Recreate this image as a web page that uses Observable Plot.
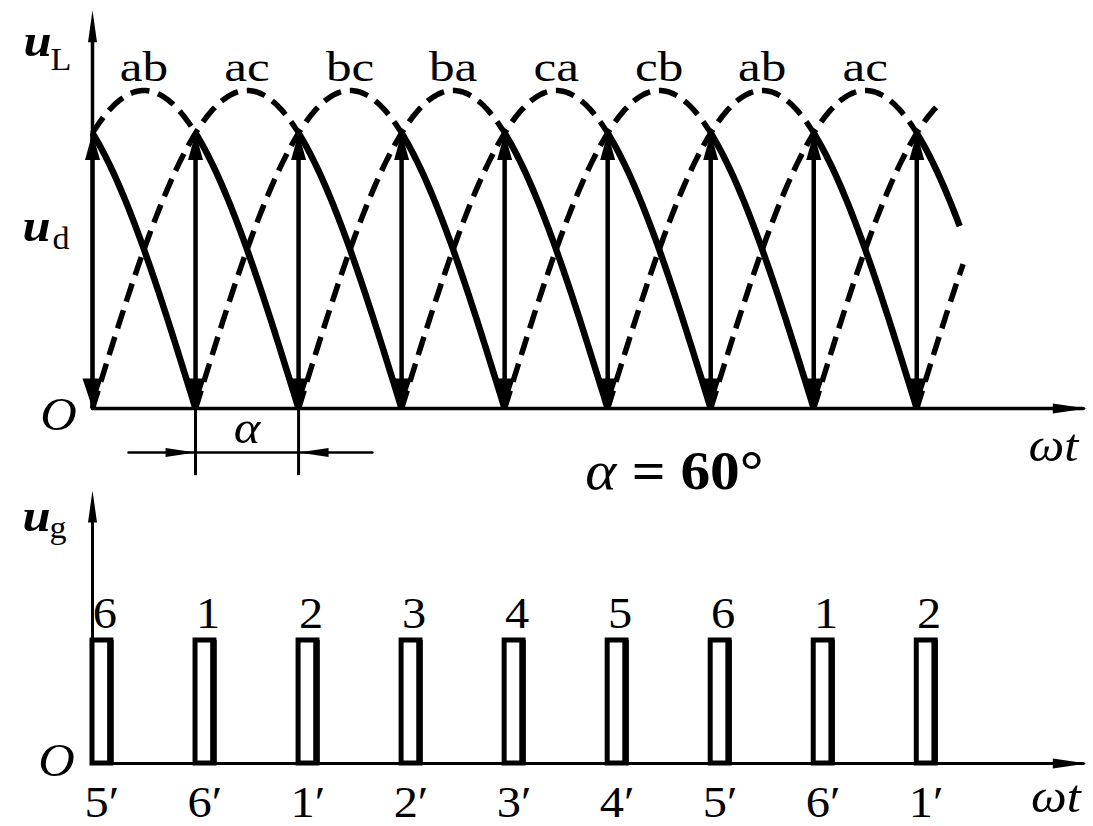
<!DOCTYPE html>
<html>
<head>
<meta charset="utf-8">
<script src="https://cdn.jsdelivr.net/npm/d3@7"></script>
<script src="https://cdn.jsdelivr.net/npm/@observablehq/plot@0.6"></script>
<style>
  body { margin: 0; background: #fff; }
  #chart { position: relative; width: 1093px; height: 826px; }
  #chart svg { display: block; }
</style>
</head>
<body>
<div id="chart"></div>
<script>
// Three-phase fully controlled bridge rectifier, resistive load, firing angle α = 60°.
// Angles are in electrical degrees measured from the origin O.

const alphaDeg = 60;

// Line voltages named above their crests, and the crest positions (deg)
const pairLabels = ["ab", "ac", "bc", "ba", "ca", "cb", "ab", "ac"];
const labelPeaks = [30, 90, 150, 210, 270, 330, 390, 450];

// Every line-voltage half wave that appears in the window: crest angle and where the trace stops
const curvePeaks = [-30, 30, 90, 150, 210, 270, 330, 390, 450, 510, 570];
const curveEnds  = [540, 540, 540, 540, 540, 540, 540, 540, 505, 493, 507];

// Gate pulses: thyristor numbers above, reference labels below
const pulseNumbers = ["6", "1", "2", "3", "4", "5", "6", "1", "2"];
const pulseRefs = ["5′", "6′", "1′", "2′", "3′", "4′", "5′", "6′", "1′"];
const pulseWidthDeg = 11;

// ---------------------------------------------------------------------------
const deg = Math.PI / 180;
const W = 1093;
const topH = 482, botH = 344;
const xDomain = [0, 580];
const marginLeft = 92, marginRight = 5;
const serif = "Liberation Serif, Times New Roman, serif";

// Half-wave traces: dashed before the thyristor fires, solid while it conducts (ud)
const dashed = [], solid = [];
curvePeaks.forEach((p, i) => {
  const fire = p - 30 + alphaDeg;           // natural commutation point + α
  const lo = Math.max(0, p - 90), hi = Math.min(p + 90, curveEnds[i]);
  const trace = (a, b, out) => {
    if (b <= a) return;
    const n = Math.ceil(b - a);
    for (let j = 0; j <= n; j++) {
      const t = a + (b - a) * j / n;
      out.push({curve: i, t, v: Math.cos((t - p) * deg)});
    }
  };
  trace(lo, Math.min(fire, hi), dashed);
  trace(Math.max(fire, lo), Math.min(p + 90, hi), solid);
});

// Firing instants: ud jumps from 0 to the incoming line voltage
const firings = curvePeaks
  .filter((p, i) => p - 30 + alphaDeg >= 0 && p - 30 + alphaDeg <= curveEnds[i] - 20)
  .map(p => {
    const t = p - 30 + alphaDeg;
    return {t, v: Math.cos((t - p) * deg)};
  });

const labels = pairLabels.map((s, i) => ({t: labelPeaks[i], s}));

const pulses = firings.map((f, i) => ({
  t1: f.t, t2: f.t + pulseWidthDeg, tc: f.t + pulseWidthDeg / 2,
  num: pulseNumbers[i], ref: pulseRefs[i]
}));

// Filled arrowheads, tip at the symbol origin
const head = (dx, dy, half) => ({
  draw(ctx) {
    const len = Math.hypot(dx, dy), ux = dx / len, uy = dy / len;
    ctx.moveTo(0, 0);
    ctx.lineTo(dx - uy * half, dy + ux * half);
    ctx.lineTo(dx + uy * half, dy - ux * half);
    ctx.closePath();
  }
});
const headUp = head(0, 27, 7.5);
const headDown = head(0, -30, 10);
const axisUp = head(0, 32, 4.5);
const axisRight = head(-34, 0, 5);
const dimRight = head(-30, 0, 4.5);
const dimLeft = head(30, 0, 4.5);

const ink = {stroke: "black"};
const txt = (extra) => ({fontFamily: serif, fill: "black", lineAnchor: "bottom", ...extra});

// ---------------------------------------------------------------------------
// Upper panel: line voltages and rectified output ud
const fire1 = firings[1].t, fire2 = firings[2].t;
const dimY = -0.138;

const upper = Plot.plot({
  width: W, height: topH,
  marginLeft, marginRight, marginTop: 90, marginBottom: topH - 408,
  x: {domain: xDomain, axis: null},
  y: {domain: [0, 1], axis: null},
  style: {background: "transparent", overflow: "visible"},
  marks: [
    // axes
    Plot.line([{t: 0, v: 0}, {t: 577, v: 0}], {x: "t", y: "v", ...ink, strokeWidth: 3.5}),
    Plot.line([{t: 0, v: 0}, {t: 0, v: 1.2}], {x: "t", y: "v", ...ink, strokeWidth: 3.5}),
    Plot.dot([{t: 0, v: 1.252}], {x: "t", y: "v", symbol: axisUp, fill: "black", stroke: "none"}),
    Plot.dot([{t: 579, v: 0}], {x: "t", y: "v", symbol: axisRight, fill: "black", stroke: "none"}),

    // line voltages (dashed) and conducting parts (solid)
    Plot.line(dashed, {x: "t", y: "v", z: "curve", ...ink, strokeWidth: 5.5, strokeDasharray: "19,9", strokeLinecap: "butt"}),
    Plot.line(solid, {x: "t", y: "v", z: "curve", ...ink, strokeWidth: 6.5, strokeLinecap: "butt"}),

    // jumps at each firing instant
    Plot.ruleX(firings, {x: "t", y1: 0, y2: "v", ...ink, strokeWidth: 4.5}),
    Plot.dot(firings, {x: "t", y: "v", symbol: headUp, fill: "black", stroke: "none"}),
    Plot.dot(firings, {x: "t", y: 0, symbol: headDown, fill: "black", stroke: "none"}),

    // phase-pair names
    Plot.text(labels, {x: "t", y: 1, text: "s", dy: -10, fontSize: 42, ...txt()}),

    // α dimension
    Plot.ruleX([fire1, fire2], {x: d => d, y1: 0, y2: -0.211, ...ink, strokeWidth: 3}),
    Plot.line([{t: fire1 - 39, v: dimY}, {t: fire2 + 43, v: dimY}], {x: "t", y: "v", ...ink, strokeWidth: 2.5}),
    Plot.dot([{t: fire1, v: dimY}], {x: "t", y: "v", symbol: dimRight, fill: "black", stroke: "none"}),
    Plot.dot([{t: fire2, v: dimY}], {x: "t", y: "v", symbol: dimLeft, fill: "black", stroke: "none"}),
    Plot.text([{t: (fire1 + fire2) / 2, v: -0.110, s: "α"}], {x: "t", y: "v", text: "s", fontSize: 46, ...txt({fontStyle: "italic"})}),
    Plot.text([{t: 287, v: -0.252, s: "α"}], {x: "t", y: "v", text: "s", fontSize: 54, ...txt({fontStyle: "italic", textAnchor: "start"})}),
    Plot.text([{t: 314, v: -0.252, s: `= ${alphaDeg}°`}], {x: "t", y: "v", text: "s", fontSize: 54, ...txt({fontWeight: "bold", textAnchor: "start"})}),

    // axis names
    Plot.text([{t: -40.2, v: 1.110, s: "u"}], {x: "t", y: "v", text: "s", textAnchor: "start", fontSize: 46, ...txt({fontStyle: "italic", fontWeight: "bold"})}),
    Plot.text([{t: -24.5, v: 1.063, s: "L"}], {x: "t", y: "v", text: "s", textAnchor: "start", fontSize: 31, ...txt()}),
    Plot.text([{t: -40.8, v: 0.528, s: "u"}], {x: "t", y: "v", text: "s", textAnchor: "start", fontSize: 46, ...txt({fontStyle: "italic", fontWeight: "bold"})}),
    Plot.text([{t: -23.3, v: 0.503, s: "d"}], {x: "t", y: "v", text: "s", textAnchor: "start", fontSize: 31, ...txt()}),
    Plot.text([{t: -19.8, v: -0.069, s: "O"}], {x: "t", y: "v", text: "s", fontSize: 46, ...txt({fontStyle: "italic"})}),
    Plot.text([{t: 559.6, v: -0.164, s: "ωt"}], {x: "t", y: "v", text: "s", fontSize: 46, ...txt({fontStyle: "italic"})})
  ]
});

// ---------------------------------------------------------------------------
// Lower panel: gate pulses ug
const lower = Plot.plot({
  width: W, height: botH,
  marginLeft, marginRight, marginTop: 158, marginBottom: botH - 281,
  x: {domain: xDomain, axis: null},
  y: {domain: [0, 1], axis: null},
  style: {background: "transparent", overflow: "visible"},
  marks: [
    Plot.line([{t: 0, v: 0}, {t: 577, v: 0}], {x: "t", y: "v", ...ink, strokeWidth: 3}),
    Plot.line([{t: 0, v: 0}, {t: 0, v: 2.0}], {x: "t", y: "v", ...ink, strokeWidth: 3}),
    Plot.dot([{t: 0, v: 2.22}], {x: "t", y: "v", symbol: axisUp, fill: "black", stroke: "none"}),
    Plot.dot([{t: 579, v: 0}], {x: "t", y: "v", symbol: axisRight, fill: "black", stroke: "none"}),

    Plot.rect(pulses, {x1: "t1", x2: "t2", y1: 0, y2: 1, fill: "none", ...ink, strokeWidth: 5}),
    Plot.ruleX(pulses, {x: "t2", y1: 0, y2: 1, dx: -1, ...ink, strokeWidth: 6.5}),

    Plot.text(pulses, {x: "tc", y: 1, text: "num", dx: 3, dy: -13, fontSize: 44, ...txt()}),
    Plot.text(pulses, {x: "tc", y: -0.439, text: "ref", fontSize: 44, ...txt()}),

    Plot.text([{t: -40.8, v: 1.894, s: "u"}], {x: "t", y: "v", text: "s", textAnchor: "start", fontSize: 46, ...txt({fontStyle: "italic", fontWeight: "bold"})}),
    Plot.text([{t: -25.0, v: 1.837, s: "g"}], {x: "t", y: "v", text: "s", textAnchor: "start", fontSize: 31, ...txt()}),
    Plot.text([{t: -21, v: -0.098, s: "O"}], {x: "t", y: "v", text: "s", fontSize: 46, ...txt({fontStyle: "italic"})}),
    Plot.text([{t: 561, v: -0.398, s: "ωt"}], {x: "t", y: "v", text: "s", fontSize: 46, ...txt({fontStyle: "italic"})})
  ]
});

// The typeface in this figure runs a little wide; stretch glyphs horizontally about their anchor
function widen(svg) {
  svg.querySelectorAll("text").forEach(t => {
    const k = pairLabels.includes(t.textContent) ? 1.22 : 1.1;
    t.setAttribute("transform", (t.getAttribute("transform") || "") + ` scale(${k},1)`);
  });
}
widen(upper);
widen(lower);

const root = document.getElementById("chart");
root.append(upper, lower);
</script>
</body>
</html>
